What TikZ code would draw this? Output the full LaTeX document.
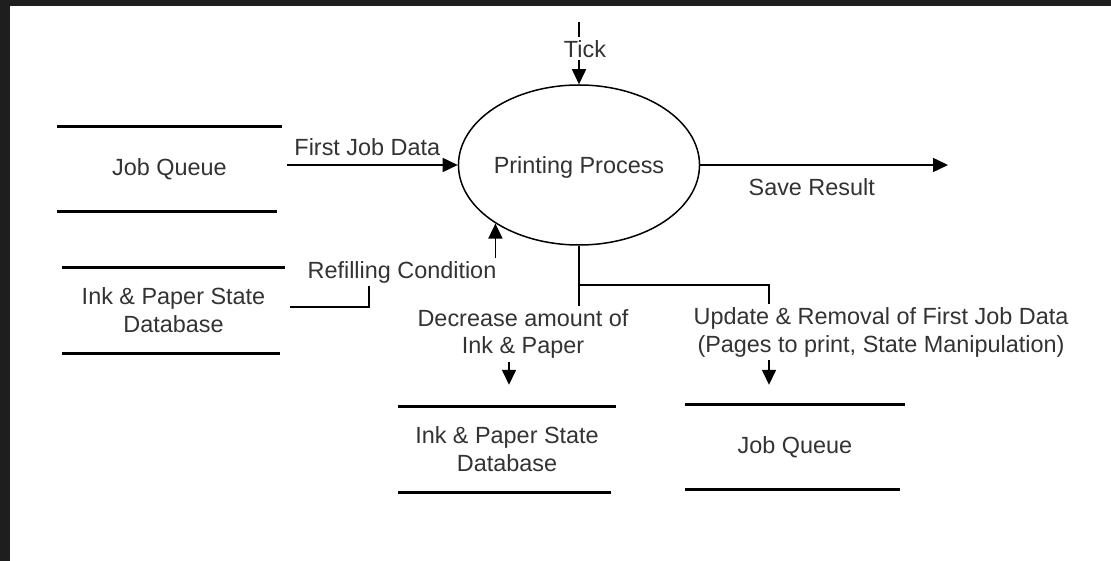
\documentclass[tikz,border=0pt]{standalone}
\usepackage{fontspec}
\setmainfont{Liberation Sans}
\usetikzlibrary{arrows.meta,shapes.geometric,calc}
\definecolor{bgdark}{HTML}{1E1E1E}
\definecolor{txtgray}{HTML}{333333}
\begin{document}
\begin{tikzpicture}[x=1bp,y=-1bp,
  txt/.style={font=\fontsize{23.5}{28}\selectfont, text=txtgray, align=center},
  storebox/.style={txt, inner sep=0pt, minimum height=84bp},
  storeline/.style={line width=3bp, draw=black},
  flow/.style={line width=1.5bp, draw=black, -{Triangle[length=15bp,width=14bp]}},
  lbl/.style={txt, fill=white, inner sep=3bp},
  procbox/.style={txt, ellipse, draw=black, line width=1.5bp, inner sep=0pt, text depth=0pt}]
\useasboundingbox (0,0) rectangle (1111,561);
\fill[white] (0,0) rectangle (1111,561);
\fill[bgdark] (0,0) rectangle (1111,6);
\fill[bgdark] (0,0) rectangle (10,561);

% data stores
\node[storebox, minimum width=225bp] (jq1) at (169.5,169) {Job Queue};
\node[storebox, minimum width=223bp, minimum height=85bp] (ip1) at (173.5,310.5) {Ink \& Paper State\\Database};
\node[storebox, minimum width=218bp, minimum height=85bp] (ip2) at (507,449.5) {Ink \& Paper State\\Database};
\node[storebox, minimum width=220bp] (jq2) at (795,447) {Job Queue};
\foreach \n in {jq1,ip1,ip2,jq2}{
  \draw[storeline] (\n.north west) -- (\n.north east);
  \draw[storeline, shorten >=5bp] (\n.south west) -- (\n.south east);
}

% process
\node[procbox, minimum width=240bp, minimum height=160bp] (ell) at (579,165) {Printing Process};

% Tick
\coordinate (tk) at (579,22);
\draw[flow] (tk) -- node[lbl, pos=.43, xshift=6bp] {Tick} (ell.north);

% First Job Data
\draw[flow] ($(jq1.east)+(5,-4)$) -- node[txt, pos=.47, yshift=18bp] {First Job Data} (ell.west);

% Save Result
\coordinate (sr) at (948,165);
\draw[flow] (ell.east) -- node[txt, pos=.45, yshift=-22bp] {Save Result} (sr);

% Refilling Condition
\draw[flow] ($(ip1.east)+(5,-3.5)$) -- (369,307) -- (369,271) -- (ell.215 |- 0,271) -- (ell.215);
\node[lbl] (rc) at (402,272) {Refilling Condition};

% Decrease / Update
\coordinate (br) at (579,285);
\draw[flow] (ell.south) -- (br) -- (579,334) -- (509,334) -- ($(ip2.north)+(2,-22)$);
\draw[flow] (br) -- (769,285) -- ($(jq2.north)+(-26,-20)$);
\node[lbl] (dl) at (523,334) {Decrease amount of\\Ink \& Paper};
\node[lbl] (ul) at (881,332) {Update \& Removal of First Job Data\\(Pages to print, State Manipulation)};
\end{tikzpicture}
\end{document}
